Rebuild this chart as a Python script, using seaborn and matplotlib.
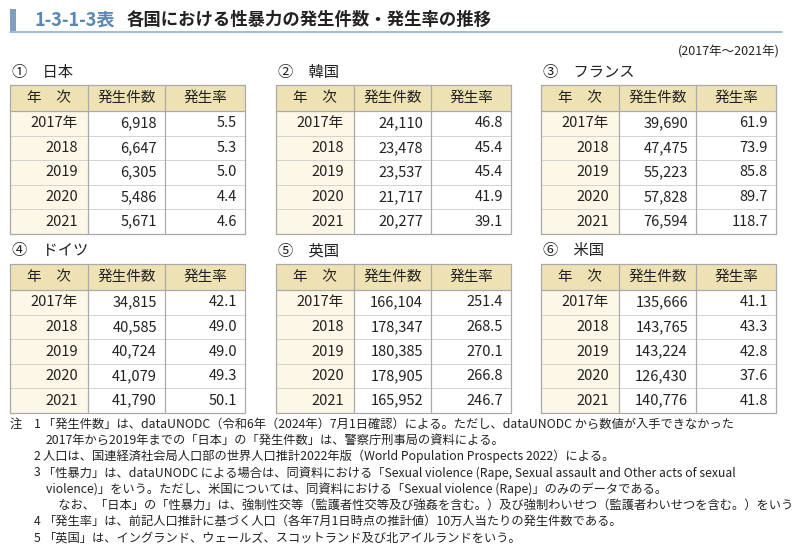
import matplotlib

matplotlib.use("Agg")

import matplotlib.pyplot as plt
import seaborn as sns
from matplotlib.patches import Rectangle

# data
countries = ["①　日本", "②　韓国", "③　フランス", "④　ドイツ", "⑤　英国", "⑥　米国"]
years = ["2017年", "2018", "2019", "2020", "2021"]
col_labels = ["年　次", "発生件数", "発生率"]
cases_japan = [6918, 6647, 6305, 5486, 5671]
rate_japan = [5.5, 5.3, 5.0, 4.4, 4.6]
cases_korea = [24110, 23478, 23537, 21717, 20277]
rate_korea = [46.8, 45.4, 45.4, 41.9, 39.1]
cases_france = [39690, 47475, 55223, 57828, 76594]
rate_france = [61.9, 73.9, 85.8, 89.7, 118.7]
cases_germany = [34815, 40585, 40724, 41079, 41790]
rate_germany = [42.1, 49.0, 49.0, 49.3, 50.1]
cases_uk = [166104, 178347, 180385, 178905, 165952]
rate_uk = [251.4, 268.5, 270.1, 266.8, 246.7]
cases_us = [135666, 143765, 143224, 126430, 140776]
rate_us = [41.1, 43.3, 42.8, 37.6, 41.8]

all_cases = [cases_japan, cases_korea, cases_france, cases_germany, cases_uk, cases_us]
all_rates = [rate_japan, rate_korea, rate_france, rate_germany, rate_uk, rate_us]

notes = [
    ("1", "「発生件数」は、dataUNODC（令和6年（2024年）7月1日確認）による。ただし、dataUNODC から数値が入手できなかった"),
    ("", "2017年から2019年までの「日本」の「発生件数」は、警察庁刑事局の資料による。"),
    ("2", "人口は、国連経済社会局人口部の世界人口推計2022年版（World Population Prospects 2022）による。"),
    ("3", "「性暴力」は、dataUNODC による場合は、同資料における「Sexual violence (Rape, Sexual assault and Other acts of sexual"),
    ("", "violence)」をいう。ただし、米国については、同資料における「Sexual violence (Rape)」のみのデータである。"),
    ("", "　なお、「日本」の「性暴力」は、強制性交等（監護者性交等及び強姦を含む。）及び強制わいせつ（監護者わいせつを含む。）をいう。"),
    ("4", "「発生率」は、前記人口推計に基づく人口（各年7月1日時点の推計値）10万人当たりの発生件数である。"),
    ("5", "「英国」は、イングランド、ウェールズ、スコットランド及び北アイルランドをいう。"),
]

sns.set_theme(style="white")
plt.rcParams["font.family"] = ["Noto Sans CJK JP", "DejaVu Sans"]

W, H = 792, 555
fig = plt.figure(figsize=(W / 100, H / 100), dpi=100)
ax = fig.add_axes([0, 0, 1, 1])
ax.set_xlim(0, W)
ax.set_ylim(H, 0)
ax.axis("off")

# title
ax.add_patch(Rectangle((10, 9), 6, 22, color="#7f9fbf", lw=0))
ax.plot([10, 782], [32, 32], color="#8fb0cf", lw=1.2)
ax.text(34, 20, "1-3-1-3表", fontsize=13, color="#5b87b4", fontweight="bold", va="center")
ax.text(127, 20, "各国における性暴力の発生件数・発生率の推移", fontsize=12.5,
        color="#222222", fontweight="bold", va="center")
ax.text(780, 52, "(2017年～2021年)", fontsize=9, ha="right", va="center", color="#222222")

header_col = "#eee2b4"
year_col = "#fcf7e6"
line_col = "#aaaaaa"
col_w = [78, 77, 80]
row_h = 24.6

origins = [(10, 85), (276, 85), (541, 85), (10, 264), (276, 264), (541, 264)]
for i, (x0, y0) in enumerate(origins):
    ax.text(x0 + 2, y0 - 13, countries[i], fontsize=11, va="center", color="#222222")
    xs = [x0, x0 + col_w[0], x0 + col_w[0] + col_w[1], x0 + sum(col_w)]
    hh = 26
    ax.add_patch(Rectangle((x0, y0), sum(col_w), hh, facecolor=header_col, edgecolor="none"))
    for j, lab in enumerate(col_labels):
        ax.text((xs[j] + xs[j + 1]) / 2, y0 + hh / 2, lab, fontsize=10.5, ha="center", va="center",
                color="#222222")
    body_top = y0 + hh
    ax.add_patch(Rectangle((x0, body_top), col_w[0], row_h * 5, facecolor=year_col, edgecolor="none"))
    for r in range(5):
        yc = body_top + row_h * (r + 0.5)
        ax.text(xs[1] - 10, yc, years[r], fontsize=10.5, ha="right", va="center", color="#222222")
        ax.text(xs[2] - 8, yc, f"{all_cases[i][r]:,}", fontsize=10.5, ha="right", va="center",
                color="#222222")
        ax.text(xs[3] - 8, yc, f"{all_rates[i][r]:.1f}", fontsize=10.5, ha="right", va="center",
                color="#222222")
        if r > 0:
            ax.plot([x0, xs[3]], [body_top + row_h * r] * 2, color="#cccccc", lw=0.6)
    bottom = body_top + row_h * 5
    for yv in (y0, body_top, bottom):
        ax.plot([x0, xs[3]], [yv, yv], color=line_col, lw=0.9)
    for xv in xs:
        ax.plot([xv, xv], [y0, bottom], color=line_col, lw=0.9)

# notes
ny = 424
ax.text(10, ny, "注", fontsize=8.8, va="center", color="#222222")
for k, (lab, txt) in enumerate(notes):
    y = ny + k * 16.3
    if lab:
        ax.text(34, y, lab, fontsize=8.8, va="center", color="#222222")
        ax.text(43, y, txt, fontsize=8.8, va="center", color="#222222")
    else:
        ax.text(46, y, txt, fontsize=8.8, va="center", color="#222222")

fig.savefig("out.png", dpi=100)
